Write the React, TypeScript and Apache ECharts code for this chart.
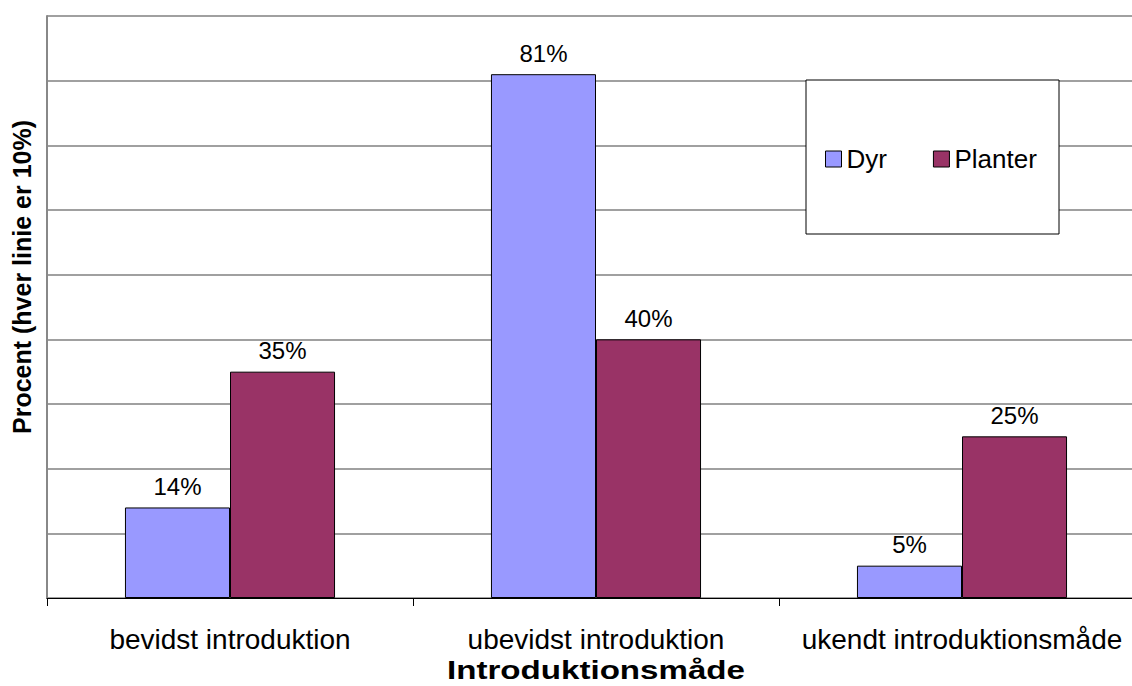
import React, { useEffect, useRef } from "react";
import * as echarts from "echarts";

// Introduction pathways of non-native species, share of animals vs. plants (%)
const categories = ["bevidst introduktion", "ubevidst introduktion", "ukendt introduktionsmåde"];
const seriesNames = ["Dyr", "Planter"];
const dyrValues = [14, 81, 5];
const planterValues = [35, 40, 25];
const seriesColors = ["#9999FF", "#993366"];

const FONT = "'Liberation Sans', Arial, Helvetica, sans-serif";

export default function App() {
  const ref = useRef<HTMLDivElement>(null);

  useEffect(() => {
    if (!ref.current) return;
    const chart = echarts.init(ref.current, undefined, { renderer: "svg" });

    const barSeries = [dyrValues, planterValues].map((values, i) => ({
      name: seriesNames[i],
      type: "bar" as const,
      data: values,
      barGap: "0%",
      barCategoryGap: "42.6%",
      itemStyle: { color: seriesColors[i], borderColor: "#000", borderWidth: 1 },
      label: {
        show: true,
        position: "top" as const,
        distance: 9,
        formatter: "{c}%",
        fontSize: 24,
        fontFamily: FONT,
        color: "#000",
      },
    }));

    chart.setOption({
      animation: false,
      backgroundColor: "#fff",
      // the plot runs a little past the right edge of the visible frame
      grid: { left: 47, top: 16, width: 1098, height: 582, containLabel: false },
      xAxis: {
        type: "category",
        data: categories,
        axisLine: { show: true, lineStyle: { color: "#000", width: 1 } },
        axisTick: { show: true, length: 8, interval: 0, lineStyle: { color: "#000" } },
        axisLabel: { fontSize: 28, fontFamily: FONT, color: "#000", margin: 27, interval: 0 },
      },
      yAxis: {
        type: "value",
        min: 0,
        max: 90,
        interval: 10,
        axisLine: { show: true, lineStyle: { color: "#888", width: 2 } },
        axisTick: { show: false },
        axisLabel: { show: false },
        splitLine: { show: true, lineStyle: { color: "#808080", width: 1.5 } },
      },
      legend: {
        data: seriesNames,
        left: 825,
        top: 146,
        padding: 0,
        itemWidth: 16,
        itemHeight: 16,
        itemGap: 46,
        icon: "rect",
        z: 20,
        itemStyle: { borderColor: "#000", borderWidth: 1 },
        textStyle: { fontSize: 26, fontFamily: FONT, color: "#000" },
      },
      graphic: [
        {
          type: "rect",
          z: 15,
          shape: { x: 806, y: 80, width: 253, height: 154 },
          style: { fill: "#fff", stroke: "#000", lineWidth: 1 },
        },
        {
          type: "text",
          z: 15,
          x: 22,
          y: 277,
          rotation: Math.PI / 2,
          style: {
            text: "Procent (hver linie er 10%)",
            fontSize: 25,
            fontWeight: "bold",
            fontFamily: FONT,
            fill: "#000",
            align: "center",
            verticalAlign: "middle",
          },
        },
        {
          type: "text",
          z: 15,
          x: 596,
          y: 670,
          scaleX: 1.25,
          style: {
            text: "Introduktionsmåde",
            fontSize: 26.5,
            fontWeight: "bold",
            fontFamily: FONT,
            fill: "#000",
            align: "center",
            verticalAlign: "middle",
          },
        },
      ],
      series: barSeries,
    });

    return () => chart.dispose();
  }, []);

  return (
    <div
      style={{ position: "absolute", left: 0, top: 0, width: 1132, height: 686, overflow: "hidden" }}
    >
      <div ref={ref} style={{ width: 1160, height: 686 }} />
    </div>
  );
}
